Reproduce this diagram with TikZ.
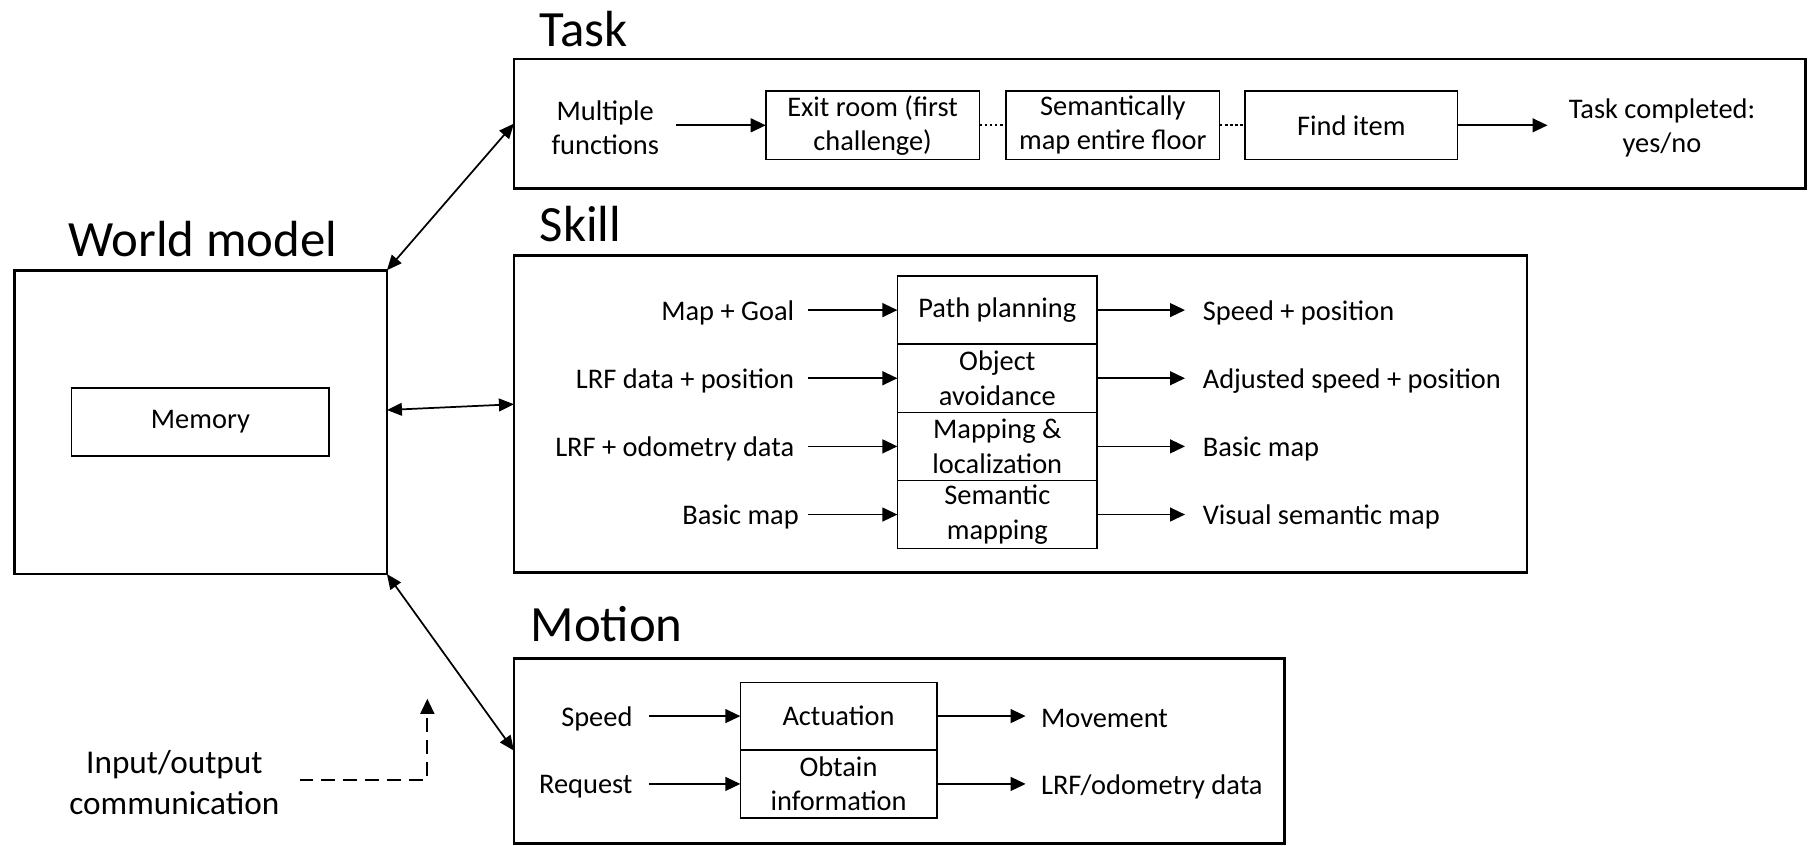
\documentclass[tikz,border=0pt]{standalone}
\usepackage{fontspec}
\setmainfont{Carlito}
\usetikzlibrary{arrows.meta}
\newcommand\myBody{\fontsize{12.3}{14.8}\selectfont}
\newcommand\myTitle{\fontsize{22}{26}\selectfont}
\newcommand\myIO{\fontsize{14.4}{17.5}\selectfont}
\begin{document}
\begin{tikzpicture}[x=0.5pt,y=-0.5pt,
  outer/.style={draw, line width=1.2pt, inner sep=0pt, outer sep=0pt},
  inbox/.style={draw, line width=0.7pt, inner sep=0pt, outer sep=0pt, align=center, font=\myBody},
  lbl/.style={inner sep=2pt, align=center, font=\myBody, yshift=-1.2pt},
  ttl/.style={font=\myTitle, inner sep=0pt, anchor=base west},
  arr/.style={line width=0.75pt, -{Triangle[length=6.5pt,width=6pt]}},
  biarr/.style={line width=0.75pt, {Triangle[length=6.5pt,width=5.5pt]}-{Triangle[length=6.5pt,width=5.5pt]}},
  dots/.style={line width=0.9pt, dash pattern=on 1.2pt off 1pt},
]
\path[use as bounding box] (0,0) rectangle (1568,732);

% titles
\node[ttl] (ttask) at (467,40) {Task};
\node[ttl] (tskill) at (467,209) {Skill};
\node[ttl] (tmotion) at (459,555) {Motion};
\node[ttl] (tworld) at (59,222) {World model};

% outer boxes
\node[outer, minimum width=559pt, minimum height=56pt] (task) at (1004,107) {};
\node[outer, minimum width=438.5pt, minimum height=137.5pt] (skill) at (883.5,358.5) {};
\node[outer, minimum width=333.5pt, minimum height=80pt] (motion) at (778.5,650) {};
\node[outer, minimum width=161.25pt, minimum height=131.5pt] (world) at (173.75,365.5) {};
\node[inbox, minimum width=111.5pt, minimum height=29.5pt] (mem) at (173.5,365.5) {Memory};

% task row
\node[lbl] (mf) at (524,108.5) {Multiple\\functions};
\node[inbox, minimum width=92.5pt, minimum height=29.5pt] (exit) at (755.5,108.5) {Exit room (first\\challenge)};
\node[inbox, minimum width=92.5pt, minimum height=29.5pt] (sem) at (963.5,108.5) {Semantically\\map entire floor};
\node[inbox, minimum width=92pt, minimum height=29.5pt] (find) at (1170,108.5) {Find item};
\node[lbl] (tc) at (1439,108.5) {Task completed:\\yes/no};
\draw[arr, shorten <=5pt] ([yshift=1.2pt]mf.east) -- (exit.west);
\draw[dots] (exit.east) -- (sem.west);
\draw[dots] (sem.east) -- (find.west);
\draw[arr, shorten >=7pt] (find.east) -- ([yshift=1.2pt]tc.west);

% skill rows
\node[inbox, minimum width=86.5pt, minimum height=29.5pt] (pp) at (863.5,268.5) {Path planning};
\node[inbox, minimum width=86.5pt, minimum height=29.5pt] (oa) at (863.5,327.5) {Object\\avoidance};
\node[inbox, minimum width=86.5pt, minimum height=29.5pt] (ml) at (863.5,386.5) {Mapping \&\\localization};
\node[inbox, minimum width=86.5pt, minimum height=29.5pt] (sm) at (863.5,445.5) {Semantic\\mapping};

\node[lbl, anchor=east] (i1) at (692,268.5) {Map + Goal};
\node[lbl, anchor=east] (i2) at (692,327.5) {LRF data + position};
\node[lbl, anchor=east] (i3) at (692,386.5) {LRF + odometry data};
\node[lbl, anchor=east] (i4) at (696,445.5) {Basic map};
\node[lbl, anchor=west] (o1) at (1037,268.5) {Speed + position};
\node[lbl, anchor=west] (o2) at (1037,327.5) {Adjusted speed + position};
\node[lbl, anchor=west] (o3) at (1037,386.5) {Basic map};
\node[lbl, anchor=west] (o4) at (1037,445.5) {Visual semantic map};

\draw[arr, shorten <=4pt] ([yshift=1.2pt]i1.east) -- (pp.west);
\draw[arr, shorten <=4pt] ([yshift=1.2pt]i2.east) -- (oa.west);
\draw[arr, shorten <=4pt] ([yshift=1.2pt]i3.east) -- (ml.west);
\draw[arr, shorten <=2pt] ([yshift=1.2pt]i4.east) -- (sm.west);
\draw[arr, shorten >=5.5pt] (pp.east) -- ([yshift=1.2pt]o1.west);
\draw[arr, shorten >=5.5pt] (oa.east) -- ([yshift=1.2pt]o2.west);
\draw[arr, shorten >=5.5pt] (ml.east) -- ([yshift=1.2pt]o3.west);
\draw[arr, shorten >=5.5pt] (sm.east) -- ([yshift=1.2pt]o4.west);

% motion rows
\node[inbox, minimum width=85pt, minimum height=29pt] (act) at (726,620) {Actuation};
\node[inbox, minimum width=85pt, minimum height=29.5pt] (obt) at (726,678.75) {Obtain\\information};
\node[lbl, anchor=east] (ms) at (552,620) {Speed};
\node[lbl, anchor=east] (mr) at (552,678.75) {Request};
\node[lbl, anchor=west] (mo1) at (897,620) {Movement};
\node[lbl, anchor=west] (mo2) at (897,678.75) {LRF/odometry data};
\draw[arr, shorten <=5pt] ([yshift=1.2pt]ms.east) -- (act.west);
\draw[arr, shorten <=5pt] ([yshift=1.2pt]mr.east) -- (obt.west);
\draw[arr, shorten >=4.5pt] (act.east) -- ([yshift=1.2pt]mo1.west);
\draw[arr, shorten >=4.5pt] (obt.east) -- ([yshift=1.2pt]mo2.west);

% world model links
\draw[biarr] (world.north east) -- (task.west);
\draw[biarr] ([yshift=5.25pt]world.east) -- ([yshift=4.25pt]skill.west);
\draw[biarr] (world.south east) -- (motion.west);

% input/output
\node[lbl, font=\myIO] (io) at (151,675) {Input/output\\communication};
\coordinate (ioend) at (370,605);
\draw[arr, line width=0.8pt, dash pattern=on 6pt off 3.5pt, shorten <=6.5pt] ([yshift=1.2pt]io.east) -| (ioend);

\end{tikzpicture}
\end{document}
